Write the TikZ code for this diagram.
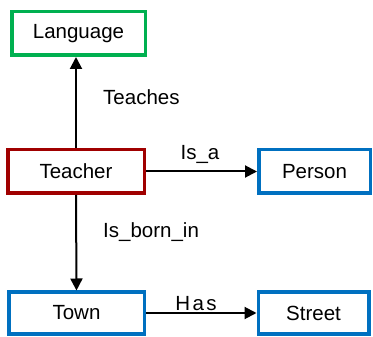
\documentclass[tikz,border=0pt]{standalone}
\usepackage{fontspec}
\setmainfont{Liberation Sans}
\usetikzlibrary{arrows.meta}
\definecolor{cgreen}{RGB}{0,176,80}
\definecolor{cred}{RGB}{160,0,0}
\definecolor{cblue}{RGB}{0,112,192}
\begin{document}
\begin{tikzpicture}[x=1pt,y=-1pt,
  box/.style={draw,line width=3.5pt,rectangle,inner sep=0pt,font=\fontsize{20.5}{24}\selectfont},
  lbl/.style={inner sep=0pt,font=\fontsize{20.5}{24}\selectfont},
  arr/.style={line width=2pt,-{Triangle[length=12pt,width=12pt]}}]
\useasboundingbox (0,0) rectangle (373,337);
\node[box,draw=cgreen,minimum width=133.5pt,minimum height=43.5pt] (Language) at (78.5,33.5) {Language};
\node[box,draw=cred,minimum width=136.5pt,minimum height=43.5pt] (Teacher) at (76,171.5) {Teacher};
\node[box,draw=cblue,minimum width=111.5pt,minimum height=43.5pt] (Person) at (314.5,171.5) {Person};
\node[box,draw=cblue,minimum width=135.5pt,minimum height=41.5pt] (Town) at (76.5,313) {Town};
\node[box,draw=cblue,minimum width=110.5pt,minimum height=41.5pt] (Street) at (313.5,313) {Street};
\draw[arr] (Teacher.north) -- (Teacher.north |- Language.south);
\draw[arr] (Teacher.east) -- (Person.west);
\draw[arr] (Teacher.south) -- (Town.north);
\draw[arr] (Town.east) -- (Street.west);
\node[lbl,anchor=west] (teaches) at (103,97) {Teaches};
\node[lbl] (isa) at (200,154) {Is\_a};
\node[lbl,anchor=west] (isborn) at (103,232) {Is\_born\_in};
\node[lbl] (has) at (196,304) {H\hspace{2.5pt}a\hspace{2.5pt}s};
\end{tikzpicture}
\end{document}
